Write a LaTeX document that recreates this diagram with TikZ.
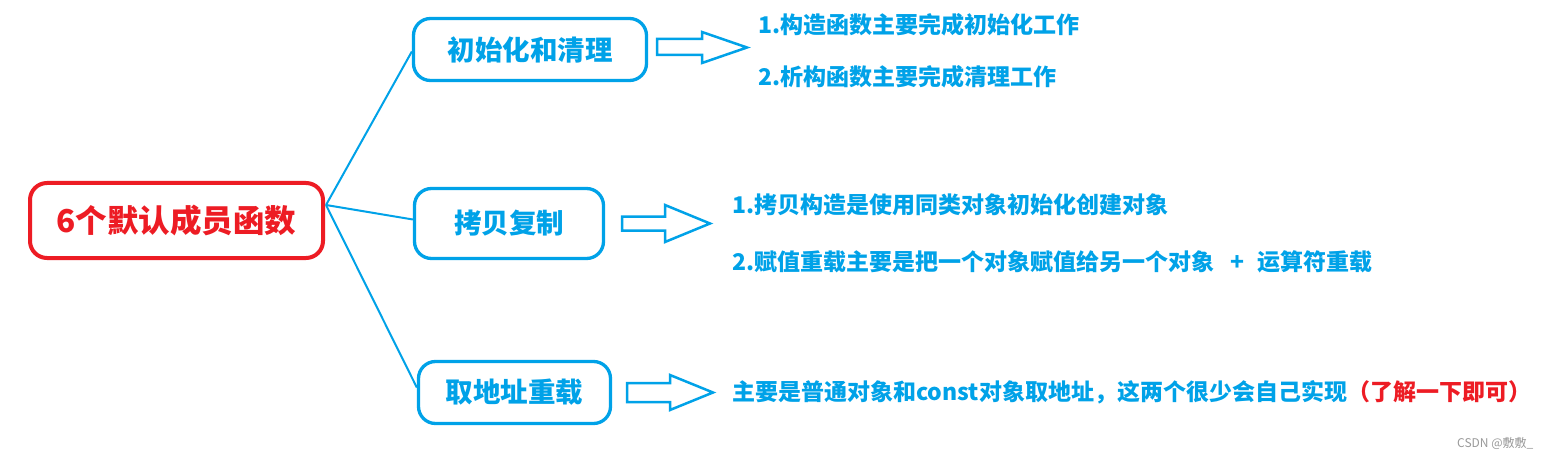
\documentclass[tikz,border=0pt]{standalone}
\usepackage{fontspec}
\usetikzlibrary{calc}
\setmainfont{Noto Sans CJK SC}
\definecolor{pblue}{HTML}{00A2E8}
\definecolor{pred}{HTML}{ED1C24}
\definecolor{wmgray}{HTML}{9A9A9A}
\begin{document}
\begin{tikzpicture}[x=1pt,y=-1pt,
  mainbox/.style={draw=pred, line width=4pt, rounded corners=17pt, minimum width=293pt, minimum height=75pt, inner sep=0pt, font=\fontsize{31.5}{31.5}\selectfont\bfseries, text=pred},
  topicbox/.style={draw=pblue, line width=3.3pt, rounded corners=17pt, inner sep=0pt, font=\fontsize{27.5}{27.5}\selectfont\bfseries, text=pblue},
  notetext/.style={anchor=west, inner sep=0pt, font=\fontsize{23}{23}\selectfont\bfseries, text=pblue},
  linkline/.style={draw=pblue, line width=2pt},
  blockarrow/.style={draw=pblue, line width=2.5pt, line join=miter}]
\fill[white] (0,0) rectangle (1554,457);
% main node
\node[mainbox] (main) at (176.5,220.5) {6个默认成员函数};
% topic nodes
\node[topicbox, minimum width=233pt, minimum height=62pt] (b1) at (530,49.5) {初始化和清理};
\node[topicbox, minimum width=189pt, minimum height=70pt] (b2) at (509,223.5) {拷贝复制};
\node[topicbox, minimum width=192pt, minimum height=62pt] (b3) at (514.5,392.5) {取地址重载};
% connectors
\coordinate (hub) at (326,205);
\draw[linkline] (hub) -- ($(b1.west)+(0,2)$);
\draw[linkline] (hub) -- ($(b2.west)+(0,-4)$);
\draw[linkline] (hub) -- ($(b3.west)+(0,-5)$);
% block arrows
\draw[blockarrow] (657,39) -- (702,39) -- (702,32) -- (747,47.5) -- (702,63) -- (702,55) -- (657,55) -- cycle;
\draw[blockarrow] (622,216.5) -- (665,216.5) -- (665,205) -- (710,223.5) -- (665,242) -- (665,230.5) -- (622,230.5) -- cycle;
\draw[blockarrow] (627,383) -- (670,383) -- (670,375) -- (713,392.5) -- (670,410) -- (670,402) -- (627,402) -- cycle;
% notes
\node[notetext] (t11) at (758,25) {1.构造函数主要完成初始化工作};
\node[notetext] (t12) at (758,77) {2.析构函数主要完成清理工作};
\node[notetext] (t21) at (732,205) {1.拷贝构造是使用同类对象初始化创建对象};
\node[notetext] (t22) at (732,262) {2.赋值重载主要是把一个对象赋值给另一个对象\hspace{16pt}+\hspace{13pt}运算符重载};
\node[notetext] (t3) at (732,392) {主要是普通对象和const对象取地址，这两个很少会自己实现\textcolor{pred}{（了解一下即可）}};
% watermark
\node[anchor=west, inner sep=0pt, font=\fontsize{12}{12}\selectfont, text=wmgray] (wm) at (1457,443) {CSDN @敷敷\_};
\end{tikzpicture}
\end{document}
